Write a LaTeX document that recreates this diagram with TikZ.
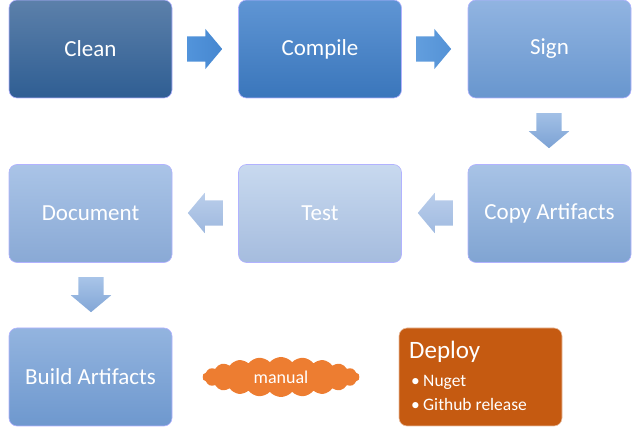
\documentclass[tikz,border=0pt]{standalone}
\usepackage{fontspec}
\setmainfont{Carlito}
\usetikzlibrary{shapes.arrows,shapes.symbols}
\definecolor{deployc}{HTML}{C55A11}
\definecolor{cloudc}{HTML}{ED7D31}
\begin{document}
\begin{tikzpicture}[x=1pt,y=-1pt,
  stage/.style={rectangle, rounded corners=8pt, minimum width=163pt, minimum height=98pt,
    draw=white!70!#1, line width=0.6pt, text=white, font=\fontsize{23}{27}\selectfont, inner sep=0pt},
  blockarrow/.style={single arrow, draw=none, minimum height=35pt, anchor=tail,
    single arrow head extend=7.5pt, single arrow tip angle=100},
  harrow/.style={blockarrow, inner xsep=0pt, inner ysep=12.5pt},
  varrow/.style={blockarrow, inner ysep=0pt, inner xsep=12.5pt},
  deploytxt/.style={anchor=base west, text=white, inner sep=0pt}]
\useasboundingbox (0,0) rectangle (640,427);
% row 1
\node[stage=blue, top color={rgb,255:red,92;green,128;blue,170}, bottom color={rgb,255:red,47;green,94;blue,147}] (clean) at (90.5,49) {Clean};
\node[stage=blue, top color={rgb,255:red,95;green,149;blue,212}, bottom color={rgb,255:red,58;green,118;blue,187}] (compile) at (320,49) {Compile};
\node[stage=blue, top color={rgb,255:red,145;green,180;blue,225}, bottom color={rgb,255:red,104;green,150;blue,206}] (sign) at (549.5,49) {Sign};
% row 2
\node[stage=blue, top color={rgb,255:red,168;green,195;blue,230}, bottom color={rgb,255:red,128;green,164;blue,210}] (copy) at (549.5,213.5) {Copy Artifacts};
\node[stage=blue, top color={rgb,255:red,200;green,217;blue,239}, bottom color={rgb,255:red,165;green,188;blue,222}] (test) at (320,213.5) {Test};
\node[stage=blue, top color={rgb,255:red,170;green,196;blue,231}, bottom color={rgb,255:red,137;green,169;blue,213}] (document) at (90.5,213.5) {Document};
% row 3
\node[stage=blue, top color={rgb,255:red,147;green,180;blue,223}, bottom color={rgb,255:red,110;green,152;blue,206}] (build) at (90.5,377) {Build Artifacts};
% arrows
\node[harrow, shape border rotate=0, left color={rgb,255:red,82;green,148;blue,219}, right color={rgb,255:red,70;green,135;blue,208}] (a1) at (187,49) {};
\node[harrow, shape border rotate=0, left color={rgb,255:red,98;green,158;blue,222}, right color={rgb,255:red,84;green,146;blue,214}] (a2) at (416,49) {};
\node[varrow, shape border rotate=270, top color={rgb,255:red,162;green,192;blue,230}, bottom color={rgb,255:red,124;green,162;blue,212}] (a3) at (549,113) {};
\node[harrow, shape border rotate=180, top color={rgb,255:red,186;green,206;blue,235}, bottom color={rgb,255:red,160;green,186;blue,224}] (a4) at (453,213) {};
\node[harrow, shape border rotate=180, top color={rgb,255:red,186;green,206;blue,235}, bottom color={rgb,255:red,158;green,184;blue,222}] (a5) at (223,213) {};
\node[varrow, shape border rotate=270, top color={rgb,255:red,168;green,196;blue,232}, bottom color={rgb,255:red,130;green,166;blue,214}] (a6) at (91,277) {};
% cloud
\node[cloud, cloud puffs=22, cloud puff arc=100, aspect=4, fill=cloudc, draw=none,
  minimum width=157pt, minimum height=40pt, inner sep=0pt, text=white,
  font=\fontsize{18}{21}\selectfont] (manual) at (281,377) {manual};
% deploy
\node[rectangle, rounded corners=8pt, fill=deployc, draw=white!60!deployc, line width=0.6pt,
  minimum width=163pt, minimum height=98pt] (deploy) at (480.5,377) {};
\node[deploytxt, font=\fontsize{25}{28}\selectfont] (dtitle) at (409,359) {Deploy};
\node[deploytxt, font=\fontsize{17.5}{20}\selectfont] (b1) at (411,387) {•};
\node[deploytxt, font=\fontsize{17.5}{20}\selectfont] (nuget) at (423,387) {Nuget};
\node[deploytxt, font=\fontsize{17.5}{20}\selectfont] (b2) at (411,410) {•};
\node[deploytxt, font=\fontsize{17.5}{20}\selectfont] (github) at (423,410) {Github release};
\end{tikzpicture}
\end{document}
